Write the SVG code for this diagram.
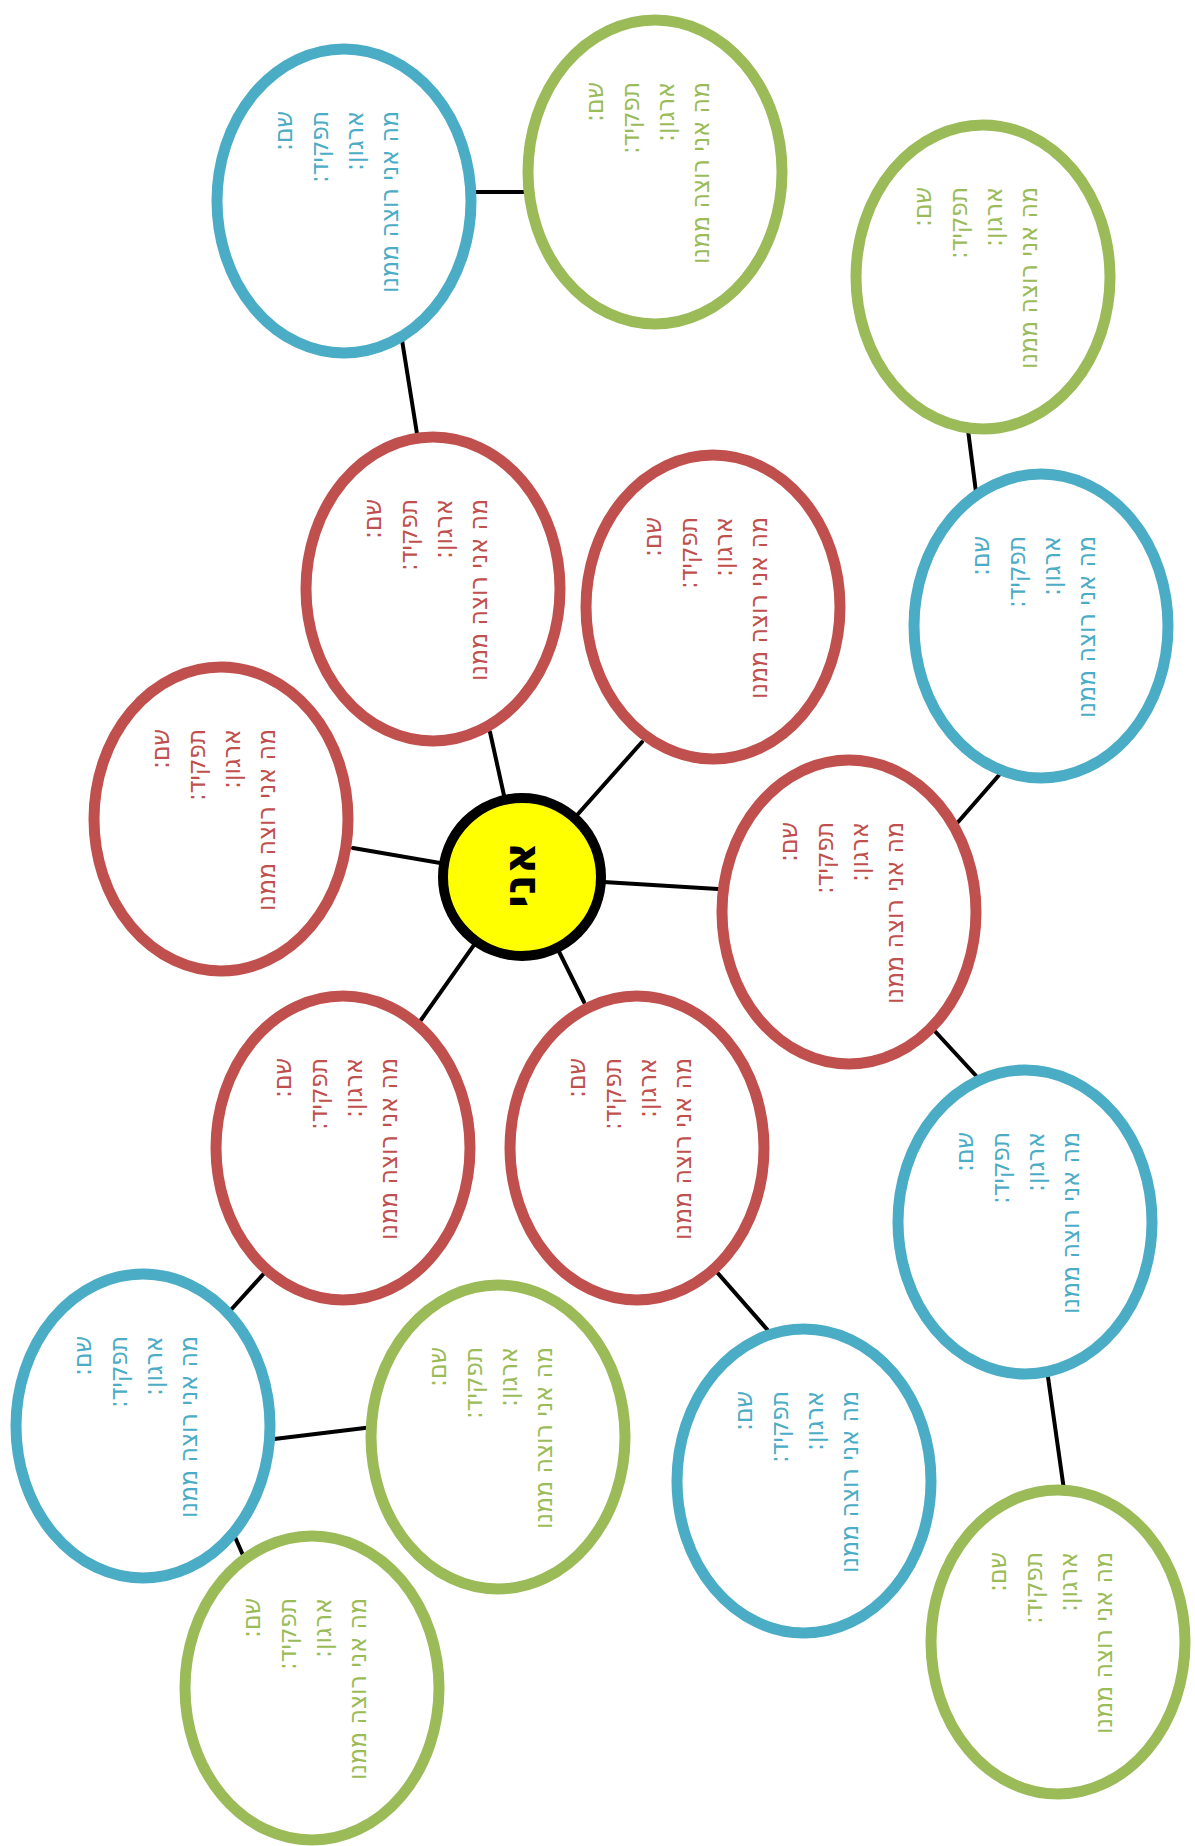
<svg xmlns="http://www.w3.org/2000/svg" width="1195" height="1846" viewBox="0 0 1195 1846">
<style>
.n ellipse{fill:#fff;stroke-width:11}
.r ellipse{stroke:#C0504D}.r text{fill:#C0504D}
.b ellipse{stroke:#4BACC6}.b text{fill:#4BACC6}
.g ellipse{stroke:#9BBB59}.g text{fill:#9BBB59}
.n text{font-family:"DejaVu Sans","Liberation Sans",sans-serif;font-size:26px;text-anchor:middle;direction:rtl}
#conn line{stroke:#000;stroke-width:4;stroke-linecap:round}
</style>
<rect width="1195" height="1846" fill="#fff"/>
<g id="conn">
<line x1="522" y1="877" x2="490" y2="732"/>
<line x1="522" y1="877" x2="642" y2="742"/>
<line x1="522" y1="877" x2="353" y2="848"/>
<line x1="522" y1="877" x2="718" y2="889"/>
<line x1="522" y1="877" x2="421" y2="1020"/>
<line x1="522" y1="877" x2="584" y2="1002"/>
<line x1="470" y1="192" x2="530" y2="192"/>
<line x1="402" y1="340" x2="418" y2="440"/>
<line x1="968" y1="430" x2="977" y2="500"/>
<line x1="1000" y1="774" x2="952" y2="829"/>
<line x1="932" y1="1028" x2="979" y2="1079"/>
<line x1="1047" y1="1370" x2="1065" y2="1497"/>
<line x1="715" y1="1270" x2="772" y2="1335"/>
<line x1="268" y1="1269" x2="229" y2="1312"/>
<line x1="266" y1="1440" x2="373" y2="1427"/>
<line x1="231" y1="1528" x2="246" y2="1562"/>
</g>
<g id="center">
<circle cx="522" cy="877" r="79" fill="#FFFF00" stroke="#000" stroke-width="10"/>
<text transform="translate(535,842) rotate(-90)" x="-33" text-anchor="middle" direction="rtl" textLength="66" lengthAdjust="spacingAndGlyphs" font-family="DejaVu Sans, sans-serif" font-weight="bold" font-size="46" fill="#000">אני</text>
</g>
<g id="r1" class="n r" transform="translate(433,589)"><ellipse rx="127" ry="152"/>
<text transform="translate(-52.5,-90) rotate(-90)" x="-20" textLength="40" lengthAdjust="spacingAndGlyphs">שם:</text>
<text transform="translate(-16.5,-90) rotate(-90)" x="-36" textLength="72" lengthAdjust="spacingAndGlyphs">תפקיד:</text>
<text transform="translate(18.5,-90) rotate(-90)" x="-30" textLength="60" lengthAdjust="spacingAndGlyphs">ארגון:</text>
<text transform="translate(53.5,-90) rotate(-90)" x="-91" textLength="182" lengthAdjust="spacingAndGlyphs">מה אני רוצה ממנו</text></g>
<g id="r2" class="n r" transform="translate(713,607)"><ellipse rx="127" ry="152"/>
<text transform="translate(-52.5,-90) rotate(-90)" x="-20" textLength="40" lengthAdjust="spacingAndGlyphs">שם:</text>
<text transform="translate(-16.5,-90) rotate(-90)" x="-36" textLength="72" lengthAdjust="spacingAndGlyphs">תפקיד:</text>
<text transform="translate(18.5,-90) rotate(-90)" x="-30" textLength="60" lengthAdjust="spacingAndGlyphs">ארגון:</text>
<text transform="translate(53.5,-90) rotate(-90)" x="-91" textLength="182" lengthAdjust="spacingAndGlyphs">מה אני רוצה ממנו</text></g>
<g id="r3" class="n r" transform="translate(221,819)"><ellipse rx="127" ry="152"/>
<text transform="translate(-52.5,-90) rotate(-90)" x="-20" textLength="40" lengthAdjust="spacingAndGlyphs">שם:</text>
<text transform="translate(-16.5,-90) rotate(-90)" x="-36" textLength="72" lengthAdjust="spacingAndGlyphs">תפקיד:</text>
<text transform="translate(18.5,-90) rotate(-90)" x="-30" textLength="60" lengthAdjust="spacingAndGlyphs">ארגון:</text>
<text transform="translate(53.5,-90) rotate(-90)" x="-91" textLength="182" lengthAdjust="spacingAndGlyphs">מה אני רוצה ממנו</text></g>
<g id="r4" class="n r" transform="translate(849,912)"><ellipse rx="127" ry="152"/>
<text transform="translate(-52.5,-90) rotate(-90)" x="-20" textLength="40" lengthAdjust="spacingAndGlyphs">שם:</text>
<text transform="translate(-16.5,-90) rotate(-90)" x="-36" textLength="72" lengthAdjust="spacingAndGlyphs">תפקיד:</text>
<text transform="translate(18.5,-90) rotate(-90)" x="-30" textLength="60" lengthAdjust="spacingAndGlyphs">ארגון:</text>
<text transform="translate(53.5,-90) rotate(-90)" x="-91" textLength="182" lengthAdjust="spacingAndGlyphs">מה אני רוצה ממנו</text></g>
<g id="r5" class="n r" transform="translate(343,1148)"><ellipse rx="127" ry="152"/>
<text transform="translate(-52.5,-90) rotate(-90)" x="-20" textLength="40" lengthAdjust="spacingAndGlyphs">שם:</text>
<text transform="translate(-16.5,-90) rotate(-90)" x="-36" textLength="72" lengthAdjust="spacingAndGlyphs">תפקיד:</text>
<text transform="translate(18.5,-90) rotate(-90)" x="-30" textLength="60" lengthAdjust="spacingAndGlyphs">ארגון:</text>
<text transform="translate(53.5,-90) rotate(-90)" x="-91" textLength="182" lengthAdjust="spacingAndGlyphs">מה אני רוצה ממנו</text></g>
<g id="r6" class="n r" transform="translate(637,1148)"><ellipse rx="127" ry="152"/>
<text transform="translate(-52.5,-90) rotate(-90)" x="-20" textLength="40" lengthAdjust="spacingAndGlyphs">שם:</text>
<text transform="translate(-16.5,-90) rotate(-90)" x="-36" textLength="72" lengthAdjust="spacingAndGlyphs">תפקיד:</text>
<text transform="translate(18.5,-90) rotate(-90)" x="-30" textLength="60" lengthAdjust="spacingAndGlyphs">ארגון:</text>
<text transform="translate(53.5,-90) rotate(-90)" x="-91" textLength="182" lengthAdjust="spacingAndGlyphs">מה אני רוצה ממנו</text></g>
<g id="b1" class="n b" transform="translate(344,201)"><ellipse rx="127" ry="152"/>
<text transform="translate(-52.5,-90) rotate(-90)" x="-20" textLength="40" lengthAdjust="spacingAndGlyphs">שם:</text>
<text transform="translate(-16.5,-90) rotate(-90)" x="-36" textLength="72" lengthAdjust="spacingAndGlyphs">תפקיד:</text>
<text transform="translate(18.5,-90) rotate(-90)" x="-30" textLength="60" lengthAdjust="spacingAndGlyphs">ארגון:</text>
<text transform="translate(53.5,-90) rotate(-90)" x="-91" textLength="182" lengthAdjust="spacingAndGlyphs">מה אני רוצה ממנו</text></g>
<g id="b2" class="n b" transform="translate(1041,626)"><ellipse rx="127" ry="152"/>
<text transform="translate(-52.5,-90) rotate(-90)" x="-20" textLength="40" lengthAdjust="spacingAndGlyphs">שם:</text>
<text transform="translate(-16.5,-90) rotate(-90)" x="-36" textLength="72" lengthAdjust="spacingAndGlyphs">תפקיד:</text>
<text transform="translate(18.5,-90) rotate(-90)" x="-30" textLength="60" lengthAdjust="spacingAndGlyphs">ארגון:</text>
<text transform="translate(53.5,-90) rotate(-90)" x="-91" textLength="182" lengthAdjust="spacingAndGlyphs">מה אני רוצה ממנו</text></g>
<g id="b3" class="n b" transform="translate(1025,1222)"><ellipse rx="127" ry="152"/>
<text transform="translate(-52.5,-90) rotate(-90)" x="-20" textLength="40" lengthAdjust="spacingAndGlyphs">שם:</text>
<text transform="translate(-16.5,-90) rotate(-90)" x="-36" textLength="72" lengthAdjust="spacingAndGlyphs">תפקיד:</text>
<text transform="translate(18.5,-90) rotate(-90)" x="-30" textLength="60" lengthAdjust="spacingAndGlyphs">ארגון:</text>
<text transform="translate(53.5,-90) rotate(-90)" x="-91" textLength="182" lengthAdjust="spacingAndGlyphs">מה אני רוצה ממנו</text></g>
<g id="b4" class="n b" transform="translate(804,1481)"><ellipse rx="127" ry="152"/>
<text transform="translate(-52.5,-90) rotate(-90)" x="-20" textLength="40" lengthAdjust="spacingAndGlyphs">שם:</text>
<text transform="translate(-16.5,-90) rotate(-90)" x="-36" textLength="72" lengthAdjust="spacingAndGlyphs">תפקיד:</text>
<text transform="translate(18.5,-90) rotate(-90)" x="-30" textLength="60" lengthAdjust="spacingAndGlyphs">ארגון:</text>
<text transform="translate(53.5,-90) rotate(-90)" x="-91" textLength="182" lengthAdjust="spacingAndGlyphs">מה אני רוצה ממנו</text></g>
<g id="b5" class="n b" transform="translate(143,1426)"><ellipse rx="127" ry="152"/>
<text transform="translate(-52.5,-90) rotate(-90)" x="-20" textLength="40" lengthAdjust="spacingAndGlyphs">שם:</text>
<text transform="translate(-16.5,-90) rotate(-90)" x="-36" textLength="72" lengthAdjust="spacingAndGlyphs">תפקיד:</text>
<text transform="translate(18.5,-90) rotate(-90)" x="-30" textLength="60" lengthAdjust="spacingAndGlyphs">ארגון:</text>
<text transform="translate(53.5,-90) rotate(-90)" x="-91" textLength="182" lengthAdjust="spacingAndGlyphs">מה אני רוצה ממנו</text></g>
<g id="g1" class="n g" transform="translate(655,172)"><ellipse rx="127" ry="152"/>
<text transform="translate(-52.5,-90) rotate(-90)" x="-20" textLength="40" lengthAdjust="spacingAndGlyphs">שם:</text>
<text transform="translate(-16.5,-90) rotate(-90)" x="-36" textLength="72" lengthAdjust="spacingAndGlyphs">תפקיד:</text>
<text transform="translate(18.5,-90) rotate(-90)" x="-30" textLength="60" lengthAdjust="spacingAndGlyphs">ארגון:</text>
<text transform="translate(53.5,-90) rotate(-90)" x="-91" textLength="182" lengthAdjust="spacingAndGlyphs">מה אני רוצה ממנו</text></g>
<g id="g2" class="n g" transform="translate(983,277)"><ellipse rx="127" ry="152"/>
<text transform="translate(-52.5,-90) rotate(-90)" x="-20" textLength="40" lengthAdjust="spacingAndGlyphs">שם:</text>
<text transform="translate(-16.5,-90) rotate(-90)" x="-36" textLength="72" lengthAdjust="spacingAndGlyphs">תפקיד:</text>
<text transform="translate(18.5,-90) rotate(-90)" x="-30" textLength="60" lengthAdjust="spacingAndGlyphs">ארגון:</text>
<text transform="translate(53.5,-90) rotate(-90)" x="-91" textLength="182" lengthAdjust="spacingAndGlyphs">מה אני רוצה ממנו</text></g>
<g id="g3" class="n g" transform="translate(498,1437)"><ellipse rx="127" ry="152"/>
<text transform="translate(-52.5,-90) rotate(-90)" x="-20" textLength="40" lengthAdjust="spacingAndGlyphs">שם:</text>
<text transform="translate(-16.5,-90) rotate(-90)" x="-36" textLength="72" lengthAdjust="spacingAndGlyphs">תפקיד:</text>
<text transform="translate(18.5,-90) rotate(-90)" x="-30" textLength="60" lengthAdjust="spacingAndGlyphs">ארגון:</text>
<text transform="translate(53.5,-90) rotate(-90)" x="-91" textLength="182" lengthAdjust="spacingAndGlyphs">מה אני רוצה ממנו</text></g>
<g id="g4" class="n g" transform="translate(312,1688)"><ellipse rx="127" ry="152"/>
<text transform="translate(-52.5,-90) rotate(-90)" x="-20" textLength="40" lengthAdjust="spacingAndGlyphs">שם:</text>
<text transform="translate(-16.5,-90) rotate(-90)" x="-36" textLength="72" lengthAdjust="spacingAndGlyphs">תפקיד:</text>
<text transform="translate(18.5,-90) rotate(-90)" x="-30" textLength="60" lengthAdjust="spacingAndGlyphs">ארגון:</text>
<text transform="translate(53.5,-90) rotate(-90)" x="-91" textLength="182" lengthAdjust="spacingAndGlyphs">מה אני רוצה ממנו</text></g>
<g id="g5" class="n g" transform="translate(1058,1642)"><ellipse rx="127" ry="152"/>
<text transform="translate(-52.5,-90) rotate(-90)" x="-20" textLength="40" lengthAdjust="spacingAndGlyphs">שם:</text>
<text transform="translate(-16.5,-90) rotate(-90)" x="-36" textLength="72" lengthAdjust="spacingAndGlyphs">תפקיד:</text>
<text transform="translate(18.5,-90) rotate(-90)" x="-30" textLength="60" lengthAdjust="spacingAndGlyphs">ארגון:</text>
<text transform="translate(53.5,-90) rotate(-90)" x="-91" textLength="182" lengthAdjust="spacingAndGlyphs">מה אני רוצה ממנו</text></g>
</svg>
